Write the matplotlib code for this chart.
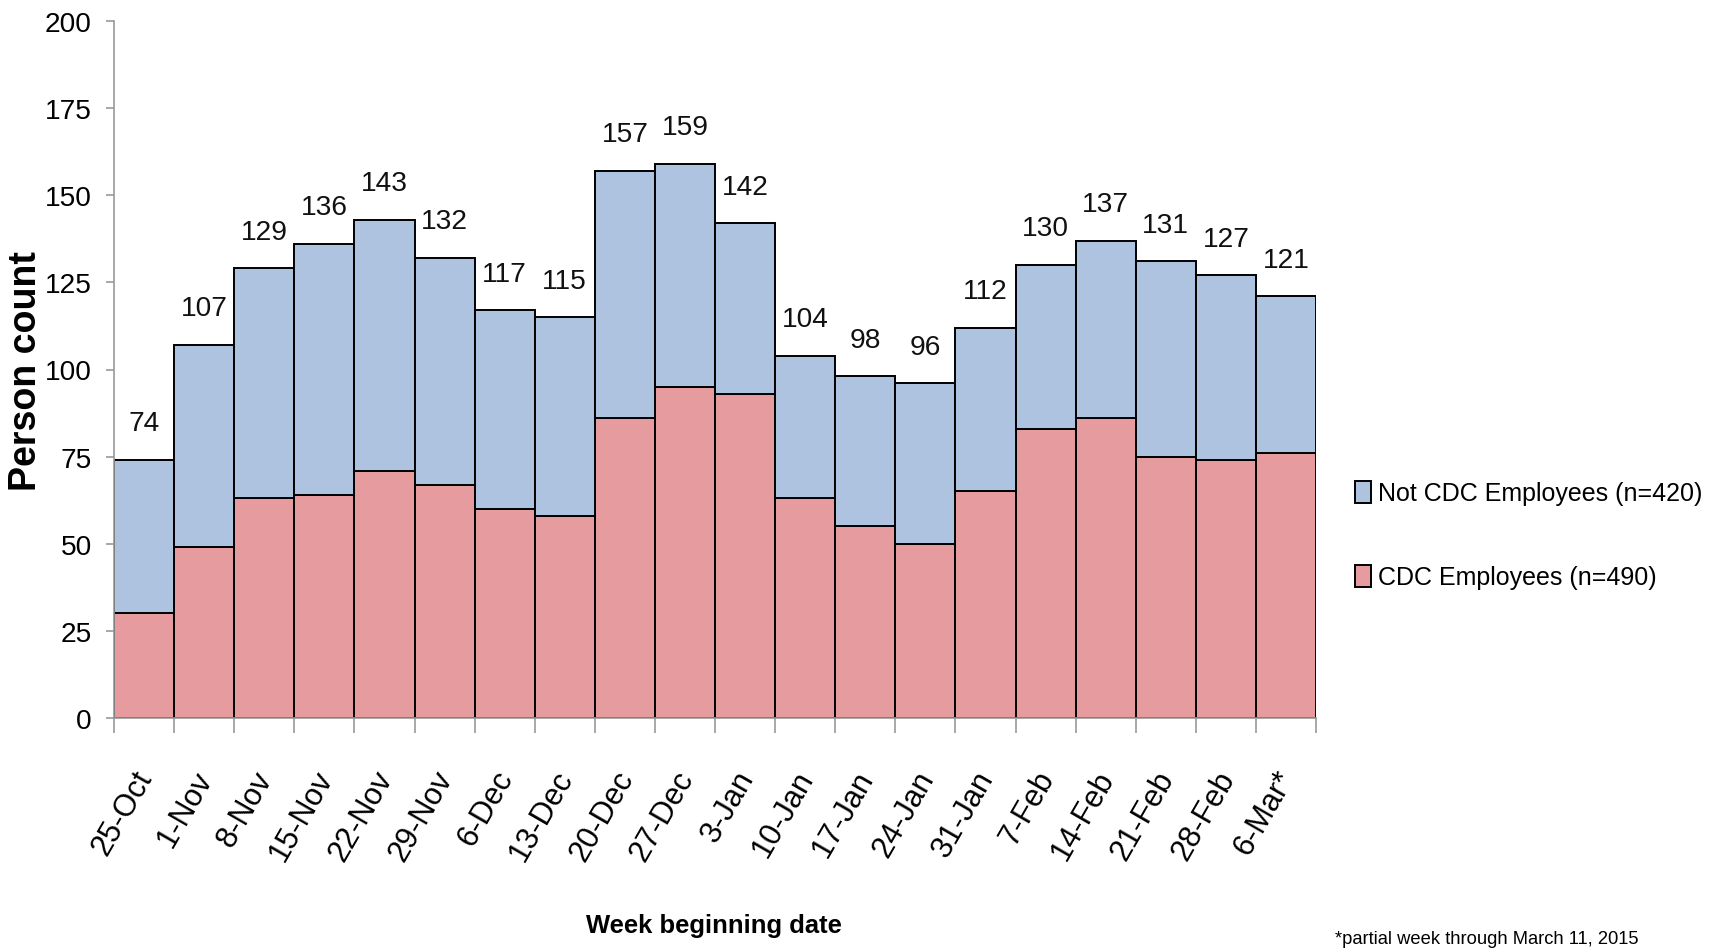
import matplotlib
matplotlib.use("Agg")
import matplotlib.pyplot as plt
import matplotlib.font_manager as fm
from matplotlib.transforms import ScaledTranslation
import numpy as np

weeks = ["25-Oct", "1-Nov", "8-Nov", "15-Nov", "22-Nov", "29-Nov", "6-Dec", "13-Dec",
         "20-Dec", "27-Dec", "3-Jan", "10-Jan", "17-Jan", "24-Jan", "31-Jan", "7-Feb",
         "14-Feb", "21-Feb", "28-Feb", "6-Mar*"]
totals = [74, 107, 129, 136, 143, 132, 117, 115, 157, 159, 142, 104, 98, 96, 112, 130,
          137, 131, 127, 121]
cdc = [30, 49, 63, 64, 71, 67, 60, 58, 86, 95, 93, 63, 55, 50, 65, 83, 86, 75, 74, 76]
not_cdc = [t - c for t, c in zip(totals, cdc)]
yticks = [0, 25, 50, 75, 100, 125, 150, 175, 200]

names = {f.name for f in fm.fontManager.ttflist}
if "Liberation Sans Narrow" in names:
    NARROW = ["Liberation Sans Narrow", "DejaVu Sans"]
    k = 1.0
else:
    NARROW = ["Liberation Sans", "DejaVu Sans"]
    k = 0.9
BOLD = ["Liberation Sans", "DejaVu Sans"]

def fs(s):
    return s * k

blue = "#AEC3DF"
red = "#E69C9E"

fig = plt.figure(figsize=(17.16, 9.53), dpi=100)
ax = fig.add_axes([114 / 1716, 1 - 719 / 953, 1202 / 1716, (719 - 22) / 953])

x = np.arange(len(weeks))
b1 = ax.bar(x, cdc, width=1.0, color=red, edgecolor="black", linewidth=1.4,
            label="CDC Employees (n=490)", zorder=2)
b2 = ax.bar(x, not_cdc, bottom=cdc, width=1.0, color=blue, edgecolor="black",
            linewidth=1.4, label="Not CDC Employees (n=420)", zorder=2)

for xi, t in zip(x, totals):
    ax.text(xi, t + 8.5, str(t), ha="center", va="baseline",
            fontsize=fs(22.5), family=NARROW, color="#111111")

ax.set_xlim(-0.5, len(weeks) - 0.5)
ax.set_ylim(0, 200)
ax.set_yticks(yticks)
ax.set_yticklabels([str(v) for v in yticks], family=NARROW, fontsize=fs(22.5))
ax.tick_params(axis="y", length=6, width=1.2, color="#999999", pad=10)

ax.set_xticks(x)
ax.set_xticklabels(weeks, rotation=60, ha="right", va="top", rotation_mode="anchor",
                   family=NARROW, fontsize=fs(24.5))
ax.tick_params(axis="x", which="major", length=0, pad=34)
shift = ScaledTranslation(-8 / 72, 0, fig.dpi_scale_trans)
for lbl in ax.get_xticklabels():
    lbl.set_transform(lbl.get_transform() + shift)
ax.set_xticks(np.arange(-0.5, len(weeks)), minor=True)
ax.tick_params(axis="x", which="minor", length=11, width=1.2, color="#999999")

for s in ["top", "right"]:
    ax.spines[s].set_visible(False)
for s in ["left", "bottom"]:
    ax.spines[s].set_color("#999999")
    ax.spines[s].set_linewidth(1.2)

fig.text(26 / 1716, 1 - 371 / 953, "Person count", rotation=90, ha="center",
         va="center", fontsize=27, fontweight="bold", family=BOLD)
fig.text(714 / 1716, 1 - 933 / 953, "Week beginning date", ha="center", va="baseline",
         fontsize=fs(20.5), fontweight="bold", family=NARROW)
fig.text(1335 / 1716, 1 - 944 / 953, "*partial week through March 11, 2015",
         ha="left", va="baseline", fontsize=fs(14.7), family=NARROW)

leg = ax.legend(handles=[b2, b1], loc="center left",
                bbox_to_anchor=(1355 / 1716, 1 - 536 / 953),
                bbox_transform=fig.transFigure, frameon=False,
                prop={"family": NARROW, "size": fs(20)},
                handlelength=0.62, handleheight=0.98, handletextpad=0.3,
                labelspacing=2.38, borderpad=0, borderaxespad=0)

fig.savefig("out.png", dpi=100, facecolor="white")
